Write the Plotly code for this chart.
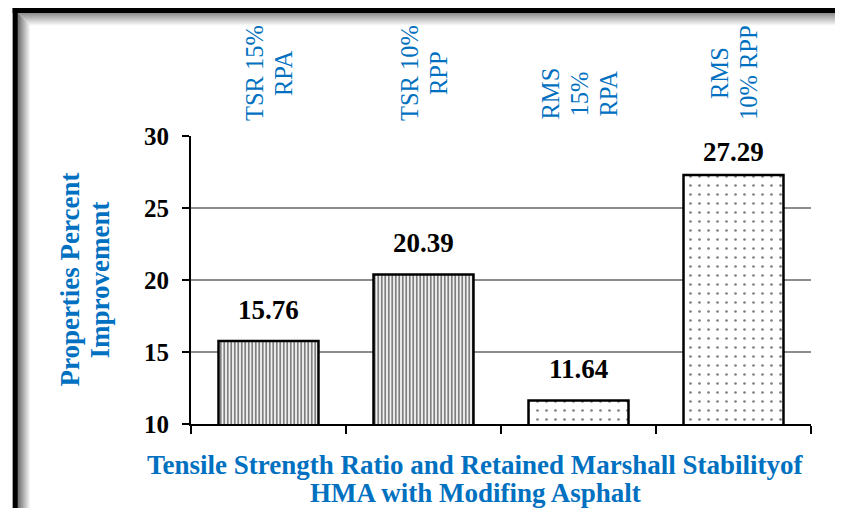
import plotly.graph_objects as go

categories = ["TSR 15% RPA", "TSR 10% RPP", "RMS 15% RPA", "RMS 10% RPP"]
values = [15.76, 20.39, 11.64, 27.29]
value_labels = ["15.76", "20.39", "11.64", "27.29"]
top_label_lines = [["TSR 15%", "RPA"], ["TSR 10%", "RPP"], ["RMS", "15%", "RPA"], ["RMS", "10% RPP"]]
y_ticks = [10, 15, 20, 25, 30]
y_title_lines = ["Properties Percent", "Improvement"]
x_title_lines = ["Tensile Strength Ratio and Retained Marshall Stabilityof", "HMA with Modifing Asphalt"]

# style / layout (page has an 8px body margin, so the figure is offset)
OFF = 8
WIN_W, WIN_H = 843, 508
W, H = WIN_W - OFF, WIN_H - OFF
L, R, T, B = 190.5, 811, 136, 424   # plot area in window pixels
BLUE = "#0070C0"
FONT = "Liberation Serif"
patterns = [
    dict(shape="|", fgcolor="black", bgcolor="white", size=3.5, solidity=0.55),
    dict(shape="|", fgcolor="black", bgcolor="white", size=3.5, solidity=0.55),
    dict(shape=".", fgcolor="black", bgcolor="white", size=9, solidity=0.07),
    dict(shape=".", fgcolor="black", bgcolor="white", size=9, solidity=0.07),
]
label_shift = [14, 14, 14, 6]


def px(x):
    return (x - L) / (R - L)


def py(y):
    return (B - y) / (B - T)


fig = go.Figure()
for i, c in enumerate(categories):
    fig.add_trace(go.Bar(
        x=[c], y=[values[i]], base=0,
        marker=dict(color="white", pattern=patterns[i], line=dict(color="black", width=2.5)),
        width=0.645, showlegend=False, hoverinfo="skip",
    ))

annotations = []
for i, c in enumerate(categories):
    annotations.append(dict(
        x=c, y=values[i], xref="x", yref="y", text="<b>%s</b>" % value_labels[i],
        showarrow=False, yanchor="bottom", yshift=label_shift[i],
        font=dict(family=FONT, size=27, color="black"),
    ))
    lines = top_label_lines[i]
    n = len(lines)
    ycen = 73 if n == 2 else 94
    for j, t in enumerate(lines):
        annotations.append(dict(
            x=c, xref="x", y=py(ycen), yref="paper", text=t, textangle=-90,
            showarrow=False, xanchor="center", yanchor="middle",
            xshift=(j - (n - 1) / 2) * 29,
            font=dict(family=FONT, size=24.5, color=BLUE),
        ))

for j, t in enumerate(y_title_lines):
    annotations.append(dict(
        x=px(69 + j * 30), xref="paper", y=py(280), yref="paper", text="<b>%s</b>" % t,
        textangle=-90, showarrow=False, xanchor="center", yanchor="middle",
        font=dict(family=FONT, size=27, color=BLUE),
    ))
for j, t in enumerate(x_title_lines):
    annotations.append(dict(
        x=px(475), xref="paper", y=py(465 + j * 28), yref="paper", text="<b>%s</b>" % t,
        showarrow=False, xanchor="center", yanchor="middle",
        font=dict(family=FONT, size=27, color=BLUE),
    ))

shapes = []
# soft shadow inside the frame
for k in range(14):
    g = min(255, int(100 + k * 12))
    col = "rgb(%d,%d,%d)" % (g, g, g)
    shapes.append(dict(type="line", xref="paper", yref="paper",
                       x0=px(17 + k), x1=px(17 + k), y0=py(13 + k), y1=py(WIN_H + 5),
                       line=dict(color=col, width=1.2)))
    shapes.append(dict(type="line", xref="paper", yref="paper",
                       x0=px(17 + k), x1=px(WIN_W + 5), y0=py(13 + k), y1=py(13 + k),
                       line=dict(color=col, width=1.2)))
# frame
shapes.append(dict(type="line", xref="paper", yref="paper",
                   x0=px(12), x1=px(WIN_W + 5), y0=py(10.5), y1=py(10.5),
                   line=dict(color="black", width=5)))
shapes.append(dict(type="line", xref="paper", yref="paper",
                   x0=px(14.5), x1=px(14.5), y0=py(8), y1=py(WIN_H + 5),
                   line=dict(color="black", width=5)))

fig.update_layout(
    width=W, height=H, autosize=False,
    margin=dict(l=L - OFF, r=WIN_W - R, t=T - OFF, b=WIN_H - B, pad=0),
    paper_bgcolor="white", plot_bgcolor="white",
    bargap=0.355,
    annotations=annotations, shapes=shapes,
    font=dict(family=FONT),
    xaxis=dict(
        showticklabels=False, showline=True, linecolor="black", linewidth=2,
        ticks="outside", tickson="boundaries", ticklen=8, tickwidth=2, tickcolor="black",
        showgrid=False, zeroline=False, fixedrange=True,
    ),
    yaxis=dict(
        range=[10, 30], tickvals=y_ticks, showline=True, linecolor="black", linewidth=2,
        ticks="outside", ticklen=7, tickwidth=2, tickcolor="black",
        showgrid=True, gridcolor="#8c8c8c", gridwidth=1.5, zeroline=False,
        tickfont=dict(family=FONT, size=25, color="black", weight="bold"),
        ticklabelstandoff=8, fixedrange=True,
    ),
)

fig.write_html("out.html")
